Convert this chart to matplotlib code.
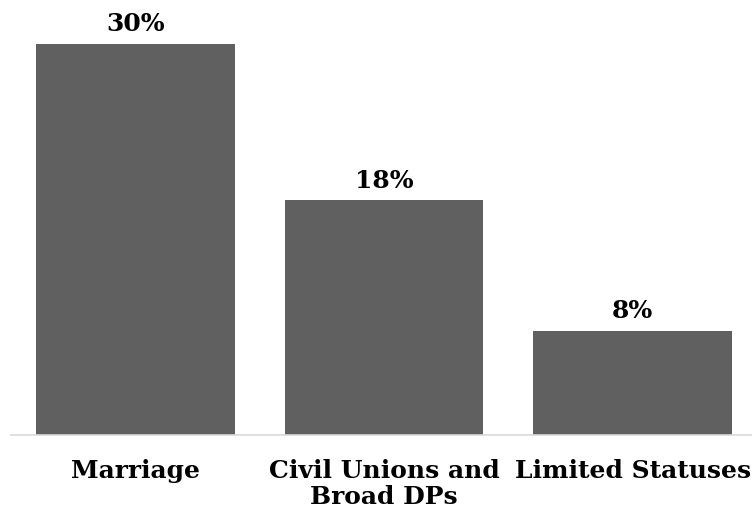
import matplotlib.pyplot as plt

# data
categories = ['Marriage', 'Civil Unions and\nBroad DPs', 'Limited Statuses']
values = [30, 18, 8]
labels = ['30%', '18%', '8%']

fig = plt.figure(figsize=(7.52, 5.14), dpi=100)
ax = fig.add_axes([11 / 752, 1 - 435 / 514, 741 / 752, 435 / 514])

x = range(len(categories))
bars = ax.bar(x, values, width=0.8, color='#606060')

# value labels above bars
for b, lab in zip(bars, labels):
	ax.text(b.get_x() + b.get_width() / 2, b.get_height() + 0.6, lab,
		ha='center', va='bottom', fontsize=18, fontweight='bold', family='DejaVu Serif')

ax.set_xlim(-0.5, 2.48)
ax.set_ylim(0, 33.37)
ax.set_xticks(list(x))
ax.set_xticklabels(categories, fontsize=18, fontweight='bold', family='DejaVu Serif', linespacing=1.15)
ax.tick_params(axis='x', length=0, pad=17)
ax.set_yticks([])

for s in ['top', 'right', 'left']:
	ax.spines[s].set_visible(False)
ax.spines['bottom'].set_color('#d9d9d9')
ax.spines['bottom'].set_linewidth(1.2)

fig.savefig('out.png', dpi=100)
